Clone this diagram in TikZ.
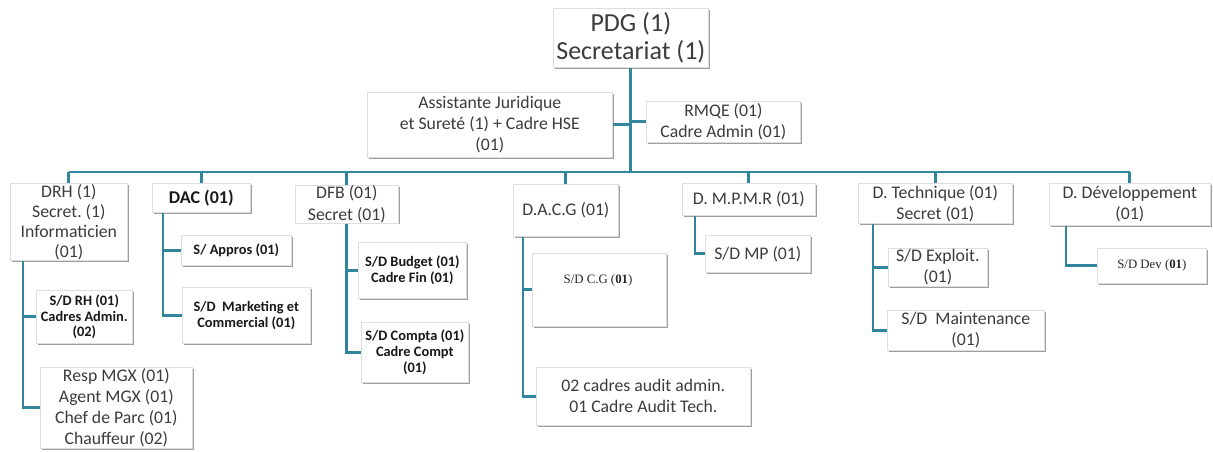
\documentclass[tikz,border=0pt]{standalone}
\usepackage{fontspec}
\setmainfont{Carlito}
\newfontfamily\smallserif{Liberation Serif}
\usetikzlibrary{shadows}
\frenchspacing
\definecolor{linkteal}{RGB}{49,133,156}
\definecolor{boxline}{RGB}{222,222,222}
\definecolor{inktext}{RGB}{60,60,60}
\tikzset{
  box/.style={draw=boxline, fill=white, line width=0.5pt, align=center,
    inner sep=0.5pt, text=inktext,
    drop shadow={shadow xshift=0.9pt, shadow yshift=-0.9pt, fill=black!38, opacity=1}},
  bigtxt/.style={font=\fontsize{19.5}{21.5}\selectfont},
  midtxt/.style={font=\fontsize{13.3}{15.8}\selectfont},
  boldtxt/.style={font=\fontsize{10.8}{11.8}\selectfont\bfseries, text=black!90},
  tinytxt/.style={font=\fontsize{9.6}{11}\smallserif\selectfont, text=black!85},
  conn/.style={draw=linkteal, line width=2.2pt},
}
% \orgbox{style}{name}{x1}{y1}{x2}{y2}{text}: box given by its corners in pixels
\newcommand\orgbox[7]{%
  \node[box,#1,anchor=north west,
        minimum width={(#5-#3)*0.75pt},minimum height={(#6-#4)*0.75pt}]
        (#2) at (#3,#4) {#7};}
\begin{document}
\begin{tikzpicture}[x=0.75pt,y=-0.75pt]
\useasboundingbox (0,0) rectangle (1213,451);
\coordinate (bus) at (0,172);

% --- top level ---
\orgbox{bigtxt}{pdg}{553}{8}{708}{67}{PDG (1)\\Secretariat (1)}
\orgbox{midtxt}{asj}{367}{92}{612}{157}{Assistante Juridique\\et Sureté (1) + Cadre HSE\\(01)}
\orgbox{midtxt}{rmqe}{646}{101}{800}{142}{RMQE (01)\\Cadre Admin (01)}

% --- directions ---
\orgbox{midtxt,font=\fontsize{13.3}{15}\selectfont}{drh}{10}{183}{127}{260}{DRH (1)\\Secret. (1)\\Informaticien\\(01)}
\orgbox{font=\fontsize{13.5}{15}\selectfont\bfseries,text=black!90}{dac}{152}{183}{250}{212}{DAC (01)}
\orgbox{midtxt}{dfb}{295}{185}{398}{217}{DFB (01)\\Secret (01)}
\orgbox{midtxt}{dacg}{513}{184}{618}{236}{D.A.C.G (01)}
\orgbox{midtxt}{dmp}{682}{183}{815}{215}{D. M.P.M.R (01)}
\orgbox{midtxt}{dtech}{858}{183}{1012}{223}{D. Technique (01)\\Secret (01)}
\orgbox{midtxt}{ddev}{1049}{183}{1210}{225}{D. Développement\\(01)}

% --- sub-directions ---
\orgbox{boldtxt}{drhA}{36}{290}{132}{343}{S/D RH (01)\\Cadres Admin.\\(02)}
\orgbox{midtxt}{drhB}{40}{367}{192}{448}{Resp MGX (01)\\Agent MGX (01)\\Chef de Parc (01)\\Chauffeur (02)}
\orgbox{boldtxt}{dacA}{181}{235}{291}{265}{S/ Appros (01)}
\orgbox{boldtxt}{dacB}{182}{287}{310}{343}{S/D\ \ Marketing et\\Commercial (01)}
\orgbox{boldtxt}{dfbA}{358}{242}{466}{298}{S/D Budget (01)\\Cadre Fin (01)}
\orgbox{boldtxt}{dfbB}{361}{322}{468}{382}{S/D Compta (01)\\Cadre Compt\\(01)}
\orgbox{}{dacgA}{532}{253}{666}{326}{}
\node[tinytxt] (cgtext) at (598,280) {S/D C.G (\textbf{01})};
\orgbox{midtxt}{dacgB}{536}{367}{750}{425}{02 cadres audit admin.\\01 Cadre Audit Tech.}
\orgbox{midtxt}{dmpA}{705}{235}{810}{272}{S/D MP (01)}
\orgbox{midtxt}{dtechA}{888}{248}{987}{286}{S/D Exploit.\\(01)}
\orgbox{midtxt}{dtechB}{887}{310}{1044}{350}{S/D\ \ Maintenance\\(01)}
\orgbox{tinytxt}{ddevA}{1097}{248}{1206}{283}{S/D Dev (\textbf{01})}

% --- connectors: trunk, staff links and bus ---
\draw[conn] (pdg.south) -- (pdg.south |- bus);
\draw[conn] (asj.east) -- (asj.east -| pdg.south);
\draw[conn] (rmqe.west) -- (rmqe.west -| pdg.south);
\draw[conn] (drh.north |- bus) -- (ddev.north |- bus);
\foreach \d in {drh,dac,dfb,dacg,dmp,dtech,ddev}
  \draw[conn] (\d.north) -- (\d.north |- bus);

% --- connectors: spines to sub-directions ---
\draw[conn] ([xshift=13*0.75pt]drh.south west) |- (drhA.west);
\draw[conn] ([xshift=13*0.75pt]drh.south west) |- (drhB.west);
\draw[conn] ([xshift=11*0.75pt]dac.south west) |- (dacA.west);
\draw[conn] ([xshift=11*0.75pt]dac.south west) |- (dacB.west);
\draw[conn] (dfb.south) |- (dfbA.west);
\draw[conn] (dfb.south) |- (dfbB.west);
\draw[conn] ([xshift=10*0.75pt]dacg.south west) |- (dacgA.west);
\draw[conn] ([xshift=10*0.75pt]dacg.south west) |- (dacgB.west);
\draw[conn] ([xshift=13*0.75pt]dmp.south west) |- (dmpA.west);
\draw[conn] ([xshift=15*0.75pt]dtech.south west) |- (dtechA.west);
\draw[conn] ([xshift=15*0.75pt]dtech.south west) |- (dtechB.west);
\draw[conn] ([xshift=17*0.75pt]ddev.south west) |- (ddevA.west);
\end{tikzpicture}
\end{document}
